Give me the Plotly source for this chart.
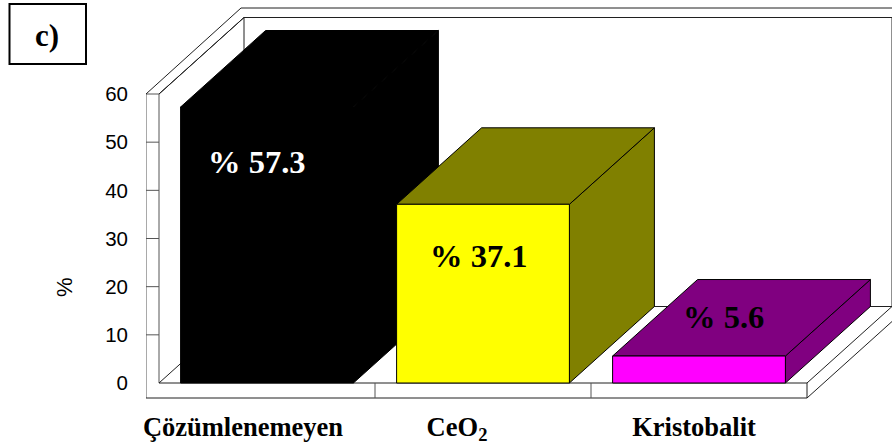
import plotly.graph_objects as go

# Phase fractions (%)
categories = ["Çözümlenemeyen", "CeO<sub>2</sub>", "Kristobalit"]
values = [57.3, 37.1, 5.6]
y_ticks = [0, 10, 20, 30, 40, 50, 60]

front_colors = ["#000000", "#FFFF00", "#FF00FF"]
shade_colors = ["#000000", "#808000", "#800080"]
value_colors = ["#FFFFFF", "#000000", "#000000"]

# Pixel offsets of the value labels from each bar's top-centre
value_shift = [(-10, -55), (-4, -52), (24, 39)]
# Horizontal pixel offset of the category labels from each bar's centre
tick_shift_px = [-24, -26, -5]

# Axis scale: pixels per category and per percent
PX_X = 216.0
PX_Y = 289.0 / 60.0

# Oblique projection of the depth direction, in axis units
DX = 85.0 / PX_X
DY = 76.5 / PX_Y
BAR_W = 0.8
WALL_X = 13.0 / PX_X
WALL_Y = 15.0 / PX_Y
X0, X1 = -0.5, 2.5
Y_TOP = 60

PLOT_L, PLOT_B = 146, 48
WIDTH, HEIGHT = 892, 447
x_range = [X0 - WALL_X, X0 + (WIDTH - 159) / PX_X]
y_range = [-(HEIGHT - PLOT_B - 383) / PX_Y, 383 / PX_Y]


def paper_x(px):
    return (px - PLOT_L) / (WIDTH - PLOT_L)


def paper_y(py):
    return (HEIGHT - PLOT_B - py) / (HEIGHT - PLOT_B)


fig = go.Figure()


def frame_line(xs, ys, color="#202020", width=1):
    fig.add_trace(go.Scatter(x=xs, y=ys, mode="lines", cliponaxis=False, hoverinfo="skip",
                             line=dict(color=color, width=width), showlegend=False))


def face(xs, ys, fill):
    fig.add_trace(go.Scatter(x=xs, y=ys, mode="lines", fill="toself", fillcolor=fill, cliponaxis=False,
                             hoverinfo="skip", line=dict(color="#000000", width=1), showlegend=False))


# Side wall slab with its gridline stubs
outer_l = X0 - WALL_X
frame_line([outer_l, outer_l, X0, X0], [-WALL_Y, Y_TOP, Y_TOP, 0], color="#555555")
sx, sy = [], []
for t in y_ticks[1:-1]:
    sx += [outer_l, X0, None]
    sy += [t, t, None]
frame_line(sx, sy, color="#555555")

# Top edges of the side wall and back wall
outer_dx, outer_dy = 95.0 / PX_X, 86.0 / PX_Y
frame_line([outer_l, outer_l + outer_dx, x_range[1]], [Y_TOP, Y_TOP + outer_dy, Y_TOP + outer_dy])
frame_line([X0, X0 + DX, X1 + DX, X1 + DX, X0 + DX, X0 + DX, X0],
           [Y_TOP, Y_TOP + DY, Y_TOP + DY, DY, DY, Y_TOP + DY, Y_TOP])
frame_line([X0, X0 + DX], [0, DY])

# Floor slab
frame_line([outer_l, X1, X1, X0], [-WALL_Y, -WALL_Y, 0, 0])
frame_line([X1, X1 + DX], [0, DY])
frame_line([X1, X1 + DX], [-WALL_Y, DY - WALL_Y])
frame_line([X0 + 1, X0 + 1, None, X0 + 2, X0 + 2], [0, -WALL_Y, None, 0, -WALL_Y], color="#555555")

# Bars back to front: side, top, front
for i, v in enumerate(values):
    l, r = i - BAR_W / 2, i + BAR_W / 2
    face([r, r + DX, r + DX, r, r], [0, DY, v + DY, v, 0], shade_colors[i])
    face([l, l + DX, r + DX, r, l], [v, v + DY, v + DY, v, v], shade_colors[i])
    face([l, r, r, l, l], [0, 0, v, v, 0], front_colors[i])

serif_bold = dict(family="Liberation Serif", weight=700)

for i, v in enumerate(values):
    fig.add_annotation(x=i, y=v, xref="x", yref="y", text=f"% {v}", showarrow=False,
                       xshift=value_shift[i][0], yshift=value_shift[i][1],
                       font=dict(size=32.5, color=value_colors[i], **serif_bold))

# Panel tag
fig.add_shape(type="rect", xref="paper", yref="paper", x0=paper_x(9.5), x1=paper_x(86), y0=paper_y(64),
              y1=paper_y(4), line=dict(color="#000000", width=2), fillcolor="#FFFFFF")
fig.add_annotation(xref="paper", yref="paper", x=paper_x(47), y=paper_y(35), text="c)", showarrow=False,
                   xanchor="center", yanchor="middle",
                   font=dict(size=31, color="#000000", **serif_bold))

# Value axis title
fig.add_annotation(xref="paper", yref="paper", x=paper_x(64), y=paper_y(287), text="%", textangle=-90,
                   showarrow=False, xanchor="center", yanchor="middle",
                   font=dict(family="Liberation Sans", size=22, color="#000000"))

fig.update_layout(
    width=WIDTH, height=HEIGHT, autosize=False,
    margin=dict(l=PLOT_L, r=0, t=0, b=PLOT_B, pad=0),
    paper_bgcolor="#FFFFFF", plot_bgcolor="#FFFFFF", showlegend=False,
    xaxis=dict(range=x_range, tickmode="array",
               tickvals=[i + s / PX_X for i, s in enumerate(tick_shift_px)], ticktext=categories,
               ticks="", showgrid=False, zeroline=False, showline=False, ticklabelstandoff=9,
               tickangle=0, tickfont=dict(size=26.5, color="#000000", **serif_bold)),
    yaxis=dict(range=y_range, tickmode="array", tickvals=y_ticks, ticks="", showgrid=False,
               zeroline=False, showline=False, ticklabelstandoff=17,
               tickfont=dict(family="Liberation Sans", size=20.5, color="#000000")),
)

fig.write_html("out.html")
